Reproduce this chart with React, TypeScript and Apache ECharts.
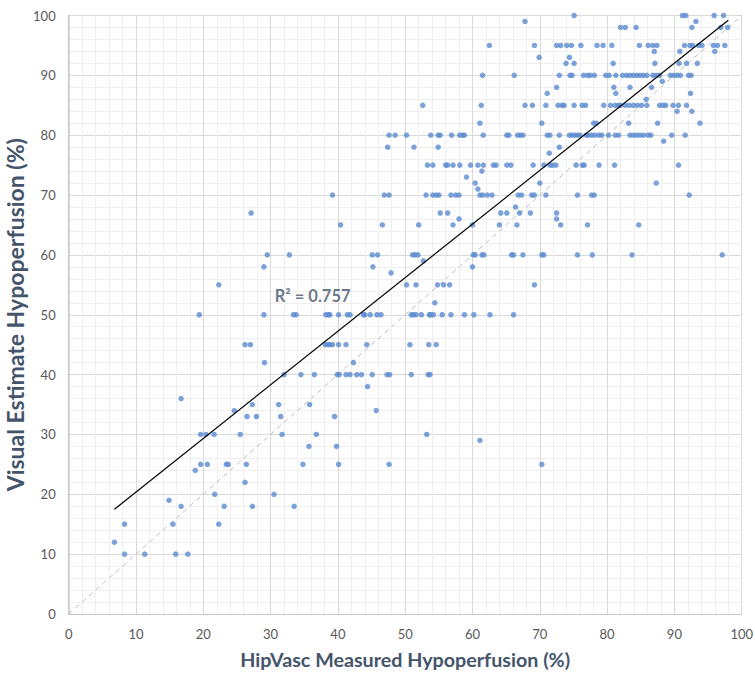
import { useEffect, useRef } from "react";
import * as echarts from "echarts";

// Visual estimate levels (y) and the HipVasc measured values (x) observed at each level
const visualLevels = [
  100, 99, 98, 95, 94, 93, 92, 90, 89, 88, 87, 86, 85, 84, 82, 80, 79, 78, 77, 75,
  74, 73, 72, 71, 70, 68, 67, 66, 65, 60, 59, 58, 57, 55, 52, 50, 45, 42, 40, 38,
  36, 35, 34, 33, 30, 29, 28, 25, 24, 22, 20, 19, 18, 15, 12, 10,
];

const hipVascByLevel: number[][] = [
  [75.1, 91.2, 91.7, 95.9, 97.3],
  [67.8, 93.2],
  [82.0, 82.7, 84.3, 92.6, 96.9, 97.9],
  [62.5, 69.2, 72.5, 73.1, 74.0, 74.7, 76.1, 78.5, 79.4, 80.7, 84.8, 86.1, 86.8, 87.4, 91.5, 92.3, 92.7, 93.6, 94.1, 95.8, 96.4, 97.5],
  [87.0, 90.8, 96.0],
  [69.9, 74.4],
  [73.9, 75.1, 80.9, 87.1, 90.7, 91.8, 93.4],
  [61.5, 66.2, 72.9, 74.5, 74.8, 76.5, 77.1, 77.5, 78.1, 79.8, 80.3, 81.3, 82.3, 82.9, 83.4, 83.9, 84.4, 84.9, 85.4, 85.9, 86.8, 87.3, 87.8, 89.4, 89.9, 90.4, 90.9, 92.1, 92.5],
  [88.2],
  [72.5, 81.0, 83.4, 86.6],
  [71.1, 81.3, 92.4],
  [85.8],
  [52.6, 61.3, 67.8, 68.9, 70.9, 72.7, 73.3, 73.6, 75.1, 76.3, 76.8, 79.5, 80.5, 81.2, 81.7, 82.0, 82.7, 83.3, 83.9, 84.5, 85.1, 85.9, 87.8, 88.3, 88.7, 89.8, 90.6, 91.8],
  [90.4, 92.6],
  [61.1, 70.3, 78.0, 78.4, 83.2, 87.5, 93.8],
  [47.6, 48.5, 50.2, 53.8, 54.9, 55.2, 56.9, 58.1, 58.5, 58.8, 61.6, 65.1, 65.4, 66.7, 67.1, 67.5, 71.1, 71.5, 72.9, 74.4, 74.8, 75.2, 75.6, 76.0, 76.9, 77.2, 77.7, 78.2, 78.8, 79.2, 80.2, 81.2, 81.7, 83.4, 83.9, 84.4, 84.9, 85.4, 86.1, 86.5, 89.6, 91.6],
  [88.4],
  [47.4, 51.3, 54.9, 72.9],
  [71.4],
  [53.3, 54.1, 56.0, 56.3, 57.1, 58.1, 59.7, 60.8, 61.6, 63.1, 63.5, 65.1, 65.7, 69.0, 70.6, 71.5, 71.9, 72.4, 75.4, 76.3, 76.6, 78.8, 81.1, 90.6],
  [61.4],
  [59.1],
  [60.4, 70.0, 87.3],
  [60.8],
  [39.2, 46.9, 47.6, 53.1, 54.1, 54.6, 55.0, 56.8, 57.5, 58.0, 61.1, 61.5, 62.2, 62.9, 66.8, 67.3, 68.8, 69.2, 70.9, 75.6, 77.7, 78.1, 92.2],
  [66.4],
  [27.1, 55.2, 56.3, 64.2, 65.1, 67.0, 68.6, 72.5],
  [58.0, 72.5],
  [40.4, 46.6, 52.0, 57.1, 60.0, 64.0, 66.6, 73.1, 77.1, 84.7],
  [29.5, 32.8, 45.1, 45.9, 51.1, 51.5, 51.9, 60.1, 60.4, 61.4, 61.7, 65.8, 66.1, 67.5, 70.3, 70.6, 75.6, 77.8, 83.7, 97.1],
  [52.7],
  [29.0, 45.2, 60.0],
  [47.9],
  [22.3, 50.2, 51.6, 54.8, 55.7, 56.6, 69.2],
  [54.4],
  [19.4, 29.0, 33.4, 33.8, 38.2, 38.6, 38.8, 40.1, 41.4, 41.8, 43.8, 44.0, 44.8, 45.8, 46.4, 50.9, 51.2, 51.6, 52.4, 53.6, 53.8, 54.2, 55.5, 56.8, 58.8, 60.2, 62.6, 66.1],
  [26.2, 27.0, 38.1, 38.5, 38.8, 39.2, 40.1, 41.2, 44.3, 50.7, 53.5, 54.6],
  [29.1, 42.3],
  [32.0, 34.5, 36.5, 39.9, 40.2, 41.2, 41.8, 42.8, 43.5, 45.1, 47.3, 47.7, 50.9, 53.4, 53.7],
  [44.4],
  [16.7],
  [27.3, 31.2, 35.8],
  [24.6, 45.7],
  [26.5, 27.9, 31.5, 39.5],
  [19.6, 20.4, 21.6, 25.5, 31.7, 36.8, 53.2],
  [61.1],
  [35.7, 39.8],
  [19.6, 20.6, 23.4, 23.7, 26.4, 34.8, 40.1, 47.6, 70.3],
  [18.8],
  [26.2],
  [21.7, 30.5],
  [14.9],
  [16.7, 23.1, 27.3, 33.5],
  [8.3, 15.5, 22.3],
  [6.8],
  [8.3, 11.3, 15.9, 17.7],
];

// Linear trend line end points and identity line
const trendX = [6.8, 98.0];
const trendY = [17.5, 99.2];
const identityX = [0, 100];
const identityY = [0, 100];

const rSquaredText = "R² = 0.757";
const rSquaredAt = [30.6, 53.1];

const xTitle = "HipVasc Measured Hypoperfusion (%)";
const yTitle = "Visual Estimate Hypoperfusion (%)";

const FONT = "Lato, 'Open Sans', sans-serif";
const TITLE_COLOR = "#44546a";

export default function App() {
  const ref = useRef<HTMLDivElement>(null);

  useEffect(() => {
    if (!ref.current) return;
    const chart = echarts.init(ref.current, null, { renderer: "svg" });

    const points: number[][] = [];
    visualLevels.forEach((y, i) => {
      hipVascByLevel[i].forEach((x) => points.push([x, y]));
    });

    const axisCommon = {
      type: "value" as const,
      min: 0,
      max: 100,
      interval: 10,
      axisTick: { show: false },
      minorTick: { show: false, splitNumber: 5 },
      splitLine: { show: true, lineStyle: { color: "#d9d9d9", width: 1 } },
      minorSplitLine: { show: true, lineStyle: { color: "#efefef", width: 1 } },
      axisLabel: { color: "#595959", fontSize: 13, fontFamily: FONT },
      nameLocation: "middle" as const,
    };

    chart.setOption({
      animation: false,
      backgroundColor: "#ffffff",
      grid: {
        left: 68.7,
        right: 13.3,
        top: 15.5,
        bottom: 65,
        containLabel: false,
        outerBoundsMode: "none",
      },
      xAxis: {
        ...axisCommon,
        name: xTitle,
        nameGap: 35,
        nameTextStyle: {
          color: TITLE_COLOR,
          fontSize: 19.7,
          fontWeight: "bold",
          fontFamily: FONT,
        },
        axisLine: { show: true, lineStyle: { color: "#c4c8cc", width: 1 } },
        axisLabel: { ...axisCommon.axisLabel, margin: 13 },
      },
      yAxis: {
        ...axisCommon,
        name: yTitle,
        nameGap: 42,
        nameMoveOverlap: false,
        nameRotate: 90,
        nameTextStyle: {
          color: TITLE_COLOR,
          fontSize: 23,
          lineHeight: 24,
          fontWeight: "bold",
          fontFamily: FONT,
        },
        axisLine: { show: true, lineStyle: { color: "#c4c8cc", width: 1.5 } },
        axisLabel: { ...axisCommon.axisLabel, margin: 13 },
      },
      series: [
        {
          type: "line",
          data: identityX.map((x, i) => [x, identityY[i]]),
          symbol: "none",
          lineStyle: { color: "#bdbdbd", width: 1, type: [5, 4] },
          z: 1,
        },
        {
          type: "scatter",
          data: points,
          symbolSize: 5.5,
          itemStyle: { color: "#5b8bd0" },
          z: 2,
        },
        {
          type: "line",
          data: trendX.map((x, i) => [x, trendY[i]]),
          symbol: "none",
          lineStyle: { color: "#000000", width: 1.2 },
          z: 3,
        },
        {
          type: "scatter",
          data: [rSquaredAt],
          symbolSize: 0,
          silent: true,
          z: 4,
          label: {
            show: true,
            position: "right",
            distance: 0,
            formatter: rSquaredText,
            color: TITLE_COLOR,
            fontSize: 16.5,
            fontWeight: "bold",
            fontFamily: FONT,
          },
        },
      ],
    });

    return () => chart.dispose();
  }, []);

  return (
    <div
      ref={ref}
      style={{ position: "fixed", left: 0, top: 0, width: 755, height: 679 }}
    />
  );
}
